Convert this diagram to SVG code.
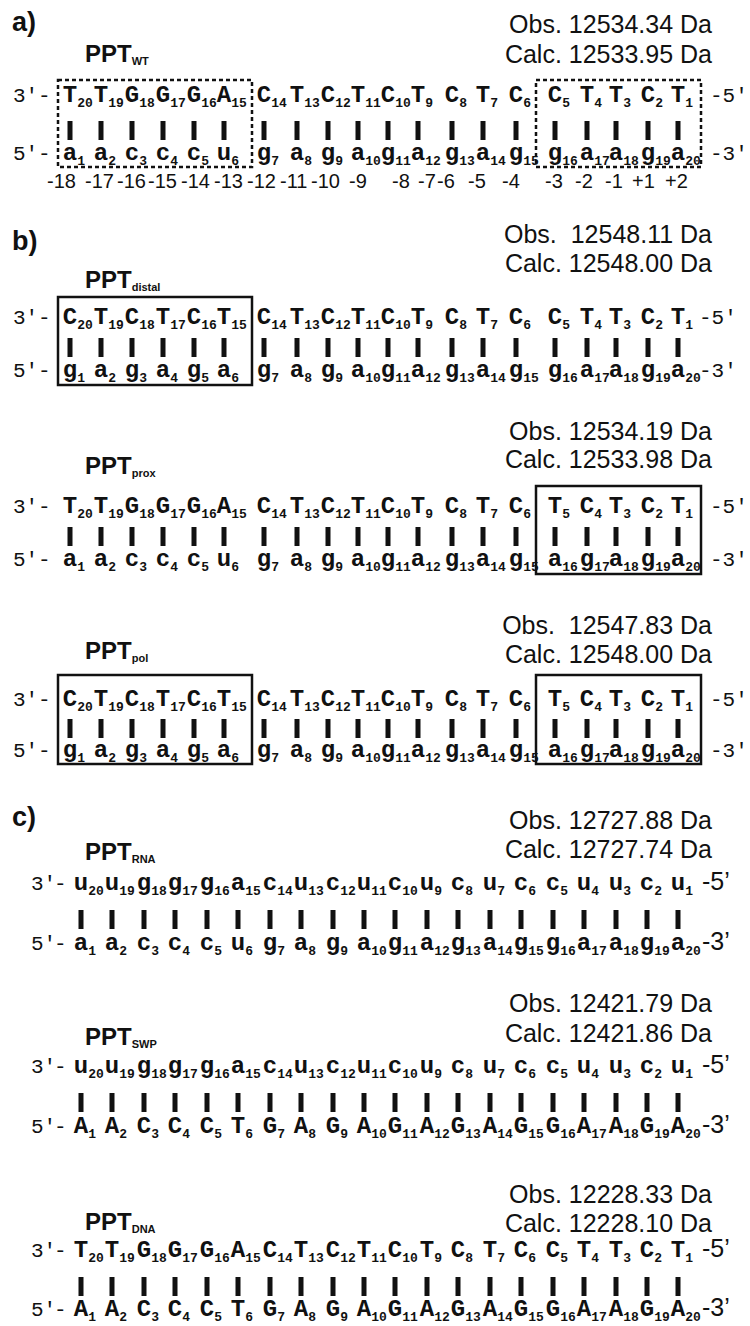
<svg xmlns="http://www.w3.org/2000/svg" xmlns:xlink="http://www.w3.org/1999/xlink" width="750" height="1326" viewBox="0 0 750 1326">
<style>
text{fill:#111}
.h{font-family:"Liberation Sans",Arial,sans-serif;font-weight:bold;font-size:27px}
.m{font-family:"Liberation Sans",Arial,sans-serif;font-size:25px;text-anchor:end}
.p{font-family:"Liberation Sans",Arial,sans-serif;font-weight:bold;font-size:24px}
.ps{font-size:11px}
.b{font-family:"Liberation Mono","Courier New",monospace;font-weight:bold;font-size:24px}
.s{font-size:13px}
.e{font-family:"Liberation Mono","Courier New",monospace;font-size:21px}
.ec{font-family:"Liberation Sans",Arial,sans-serif;font-size:25px}
.n{font-family:"Liberation Sans",Arial,sans-serif;font-size:20px}
.bar{stroke:#111;stroke-width:5;fill:none}
.box{fill:none;stroke:#111;stroke-width:2.5}
.dbox{fill:none;stroke:#111;stroke-width:2.5;stroke-dasharray:4 3}
</style>
<defs>
<path id="barsA" class="bar" d="M70 0v19M101 0v19M132 0v19M163 0v19M194 0v19M224 0v19M264 0v19M297 0v19M328 0v19M358 0v19M388 0v19M418 0v19M452 0v19M483 0v19M516 0v19M555 0v19M587 0v19M616 0v19M648 0v19M678 0v19"/>
<path id="barsC" class="bar" d="M81 0v19M112 0v19M144 0v19M175 0v19M207 0v19M238 0v19M270 0v19M301 0v19M333 0v19M364 0v19M395 0v19M427 0v19M458 0v19M490 0v19M521 0v19M553 0v19M584 0v19M616 0v19M647 0v19M678 0v19"/>
</defs>

<g id="connectors">
<use xlink:href="#barsA" y="121"/>
<use xlink:href="#barsA" y="338"/>
<use xlink:href="#barsA" y="527"/>
<use xlink:href="#barsA" y="719"/>
<use xlink:href="#barsC" y="910"/>
<use xlink:href="#barsC" y="1093"/>
<use xlink:href="#barsC" y="1277"/>
</g>

<g id="panel-a">
<text class="h" x="12" y="31">a)</text>
<text class="m" x="712" y="33">Obs. 12534.34 Da</text>
<text class="m" x="712" y="63">Calc. 12533.95 Da</text>
<text class="p" x="85" y="62">PPT<tspan class="ps" dy="3">WT</tspan></text>
<rect class="dbox" x="58" y="80" width="194" height="87"/>
<rect class="dbox" x="536" y="80" width="165" height="87"/>
<text class="e" y="102"><tspan x="13">3′</tspan><tspan x="38">-</tspan></text>
<text class="e" y="160"><tspan x="13">5′</tspan><tspan x="38">-</tspan></text>
<text class="e" x="710" y="102">-5′</text>
<text class="e" x="710" y="160">-3′</text>
<text class="b" y="107"><tspan x="62.8" dy="-5">T</tspan><tspan class="s" dy="5">20</tspan><tspan x="93.8" dy="-5">T</tspan><tspan class="s" dy="5">19</tspan><tspan x="124.8" dy="-5">G</tspan><tspan class="s" dy="5">18</tspan><tspan x="155.8" dy="-5">G</tspan><tspan class="s" dy="5">17</tspan><tspan x="186.8" dy="-5">G</tspan><tspan class="s" dy="5">16</tspan><tspan x="216.8" dy="-5">A</tspan><tspan class="s" dy="5">15</tspan><tspan x="256.8" dy="-5">C</tspan><tspan class="s" dy="5">14</tspan><tspan x="289.8" dy="-5">T</tspan><tspan class="s" dy="5">13</tspan><tspan x="320.8" dy="-5">C</tspan><tspan class="s" dy="5">12</tspan><tspan x="350.8" dy="-5">T</tspan><tspan class="s" dy="5">11</tspan><tspan x="380.8" dy="-5">C</tspan><tspan class="s" dy="5">10</tspan><tspan x="410.8" dy="-5">T</tspan><tspan class="s" dy="5">9</tspan><tspan x="444.8" dy="-5">C</tspan><tspan class="s" dy="5">8</tspan><tspan x="475.8" dy="-5">T</tspan><tspan class="s" dy="5">7</tspan><tspan x="508.8" dy="-5">C</tspan><tspan class="s" dy="5">6</tspan><tspan x="547.8" dy="-5">C</tspan><tspan class="s" dy="5">5</tspan><tspan x="579.8" dy="-5">T</tspan><tspan class="s" dy="5">4</tspan><tspan x="608.8" dy="-5">T</tspan><tspan class="s" dy="5">3</tspan><tspan x="640.8" dy="-5">C</tspan><tspan class="s" dy="5">2</tspan><tspan x="670.8" dy="-5">T</tspan><tspan class="s" dy="5">1</tspan></text>
<text class="b" y="165"><tspan x="62.8" dy="-5">a</tspan><tspan class="s" dy="5">1</tspan><tspan x="93.8" dy="-5">a</tspan><tspan class="s" dy="5">2</tspan><tspan x="124.8" dy="-5">c</tspan><tspan class="s" dy="5">3</tspan><tspan x="155.8" dy="-5">c</tspan><tspan class="s" dy="5">4</tspan><tspan x="186.8" dy="-5">c</tspan><tspan class="s" dy="5">5</tspan><tspan x="216.8" dy="-5">u</tspan><tspan class="s" dy="5">6</tspan><tspan x="256.8" dy="-5">g</tspan><tspan class="s" dy="5">7</tspan><tspan x="289.8" dy="-5">a</tspan><tspan class="s" dy="5">8</tspan><tspan x="320.8" dy="-5">g</tspan><tspan class="s" dy="5">9</tspan><tspan x="350.8" dy="-5">a</tspan><tspan class="s" dy="5">10</tspan><tspan x="380.8" dy="-5">g</tspan><tspan class="s" dy="5">11</tspan><tspan x="410.8" dy="-5">a</tspan><tspan class="s" dy="5">12</tspan><tspan x="444.8" dy="-5">g</tspan><tspan class="s" dy="5">13</tspan><tspan x="475.8" dy="-5">a</tspan><tspan class="s" dy="5">14</tspan><tspan x="508.8" dy="-5">g</tspan><tspan class="s" dy="5">15</tspan><tspan x="547.8" dy="-5">g</tspan><tspan class="s" dy="5">16</tspan><tspan x="579.8" dy="-5">a</tspan><tspan class="s" dy="5">17</tspan><tspan x="608.8" dy="-5">a</tspan><tspan class="s" dy="5">18</tspan><tspan x="640.8" dy="-5">g</tspan><tspan class="s" dy="5">19</tspan><tspan x="670.8" dy="-5">a</tspan><tspan class="s" dy="5">20</tspan></text>
<text class="n" y="188"><tspan x="47">-18</tspan><tspan x="85">-17</tspan><tspan x="117">-16</tspan><tspan x="148">-15</tspan><tspan x="181">-14</tspan><tspan x="214">-13</tspan><tspan x="247">-12</tspan><tspan x="280">-11</tspan><tspan x="311">-10</tspan><tspan x="349">-9</tspan><tspan x="392">-8</tspan><tspan x="418">-7</tspan><tspan x="437">-6</tspan><tspan x="468">-5</tspan><tspan x="502">-4</tspan><tspan x="545">-3</tspan><tspan x="575">-2</tspan><tspan x="605">-1</tspan><tspan x="632">+1</tspan><tspan x="665">+2</tspan></text>
</g>

<g id="panel-b-distal">
<text class="h" x="12" y="250">b)</text>
<text class="m" x="712" y="243" xml:space="preserve">Obs.  12548.11 Da</text>
<text class="m" x="712" y="272">Calc. 12548.00 Da</text>
<text class="p" x="85" y="288">PPT<tspan class="ps" dy="3">distal</tspan></text>
<rect class="box" x="58" y="297" width="194" height="88"/>
<text class="e" y="324"><tspan x="13">3′</tspan><tspan x="38">-</tspan></text>
<text class="e" y="377"><tspan x="13">5′</tspan><tspan x="38">-</tspan></text>
<text class="e" x="699" y="324">-5′</text>
<text class="e" x="699" y="377">-3′</text>
<text class="b" y="329"><tspan x="62.8" dy="-5">C</tspan><tspan class="s" dy="5">20</tspan><tspan x="93.8" dy="-5">T</tspan><tspan class="s" dy="5">19</tspan><tspan x="124.8" dy="-5">C</tspan><tspan class="s" dy="5">18</tspan><tspan x="155.8" dy="-5">T</tspan><tspan class="s" dy="5">17</tspan><tspan x="186.8" dy="-5">C</tspan><tspan class="s" dy="5">16</tspan><tspan x="216.8" dy="-5">T</tspan><tspan class="s" dy="5">15</tspan><tspan x="256.8" dy="-5">C</tspan><tspan class="s" dy="5">14</tspan><tspan x="289.8" dy="-5">T</tspan><tspan class="s" dy="5">13</tspan><tspan x="320.8" dy="-5">C</tspan><tspan class="s" dy="5">12</tspan><tspan x="350.8" dy="-5">T</tspan><tspan class="s" dy="5">11</tspan><tspan x="380.8" dy="-5">C</tspan><tspan class="s" dy="5">10</tspan><tspan x="410.8" dy="-5">T</tspan><tspan class="s" dy="5">9</tspan><tspan x="444.8" dy="-5">C</tspan><tspan class="s" dy="5">8</tspan><tspan x="475.8" dy="-5">T</tspan><tspan class="s" dy="5">7</tspan><tspan x="508.8" dy="-5">C</tspan><tspan class="s" dy="5">6</tspan><tspan x="547.8" dy="-5">C</tspan><tspan class="s" dy="5">5</tspan><tspan x="579.8" dy="-5">T</tspan><tspan class="s" dy="5">4</tspan><tspan x="608.8" dy="-5">T</tspan><tspan class="s" dy="5">3</tspan><tspan x="640.8" dy="-5">C</tspan><tspan class="s" dy="5">2</tspan><tspan x="670.8" dy="-5">T</tspan><tspan class="s" dy="5">1</tspan></text>
<text class="b" y="382"><tspan x="62.8" dy="-5">g</tspan><tspan class="s" dy="5">1</tspan><tspan x="93.8" dy="-5">a</tspan><tspan class="s" dy="5">2</tspan><tspan x="124.8" dy="-5">g</tspan><tspan class="s" dy="5">3</tspan><tspan x="155.8" dy="-5">a</tspan><tspan class="s" dy="5">4</tspan><tspan x="186.8" dy="-5">g</tspan><tspan class="s" dy="5">5</tspan><tspan x="216.8" dy="-5">a</tspan><tspan class="s" dy="5">6</tspan><tspan x="256.8" dy="-5">g</tspan><tspan class="s" dy="5">7</tspan><tspan x="289.8" dy="-5">a</tspan><tspan class="s" dy="5">8</tspan><tspan x="320.8" dy="-5">g</tspan><tspan class="s" dy="5">9</tspan><tspan x="350.8" dy="-5">a</tspan><tspan class="s" dy="5">10</tspan><tspan x="380.8" dy="-5">g</tspan><tspan class="s" dy="5">11</tspan><tspan x="410.8" dy="-5">a</tspan><tspan class="s" dy="5">12</tspan><tspan x="444.8" dy="-5">g</tspan><tspan class="s" dy="5">13</tspan><tspan x="475.8" dy="-5">a</tspan><tspan class="s" dy="5">14</tspan><tspan x="508.8" dy="-5">g</tspan><tspan class="s" dy="5">15</tspan><tspan x="547.8" dy="-5">g</tspan><tspan class="s" dy="5">16</tspan><tspan x="579.8" dy="-5">a</tspan><tspan class="s" dy="5">17</tspan><tspan x="608.8" dy="-5">a</tspan><tspan class="s" dy="5">18</tspan><tspan x="640.8" dy="-5">g</tspan><tspan class="s" dy="5">19</tspan><tspan x="670.8" dy="-5">a</tspan><tspan class="s" dy="5">20</tspan></text>
</g>

<g id="panel-b-prox">
<text class="m" x="712" y="440">Obs. 12534.19 Da</text>
<text class="m" x="712" y="468">Calc. 12533.98 Da</text>
<text class="p" x="85" y="474">PPT<tspan class="ps" dy="3">prox</tspan></text>
<rect class="box" x="536" y="486" width="165" height="88"/>
<text class="e" y="513"><tspan x="13">3′</tspan><tspan x="38">-</tspan></text>
<text class="e" y="566"><tspan x="13">5′</tspan><tspan x="38">-</tspan></text>
<text class="e" x="710" y="513">-5′</text>
<text class="e" x="710" y="566">-3′</text>
<text class="b" y="518"><tspan x="62.8" dy="-5">T</tspan><tspan class="s" dy="5">20</tspan><tspan x="93.8" dy="-5">T</tspan><tspan class="s" dy="5">19</tspan><tspan x="124.8" dy="-5">G</tspan><tspan class="s" dy="5">18</tspan><tspan x="155.8" dy="-5">G</tspan><tspan class="s" dy="5">17</tspan><tspan x="186.8" dy="-5">G</tspan><tspan class="s" dy="5">16</tspan><tspan x="216.8" dy="-5">A</tspan><tspan class="s" dy="5">15</tspan><tspan x="256.8" dy="-5">C</tspan><tspan class="s" dy="5">14</tspan><tspan x="289.8" dy="-5">T</tspan><tspan class="s" dy="5">13</tspan><tspan x="320.8" dy="-5">C</tspan><tspan class="s" dy="5">12</tspan><tspan x="350.8" dy="-5">T</tspan><tspan class="s" dy="5">11</tspan><tspan x="380.8" dy="-5">C</tspan><tspan class="s" dy="5">10</tspan><tspan x="410.8" dy="-5">T</tspan><tspan class="s" dy="5">9</tspan><tspan x="444.8" dy="-5">C</tspan><tspan class="s" dy="5">8</tspan><tspan x="475.8" dy="-5">T</tspan><tspan class="s" dy="5">7</tspan><tspan x="508.8" dy="-5">C</tspan><tspan class="s" dy="5">6</tspan><tspan x="547.8" dy="-5">T</tspan><tspan class="s" dy="5">5</tspan><tspan x="579.8" dy="-5">C</tspan><tspan class="s" dy="5">4</tspan><tspan x="608.8" dy="-5">T</tspan><tspan class="s" dy="5">3</tspan><tspan x="640.8" dy="-5">C</tspan><tspan class="s" dy="5">2</tspan><tspan x="670.8" dy="-5">T</tspan><tspan class="s" dy="5">1</tspan></text>
<text class="b" y="571"><tspan x="62.8" dy="-5">a</tspan><tspan class="s" dy="5">1</tspan><tspan x="93.8" dy="-5">a</tspan><tspan class="s" dy="5">2</tspan><tspan x="124.8" dy="-5">c</tspan><tspan class="s" dy="5">3</tspan><tspan x="155.8" dy="-5">c</tspan><tspan class="s" dy="5">4</tspan><tspan x="186.8" dy="-5">c</tspan><tspan class="s" dy="5">5</tspan><tspan x="216.8" dy="-5">u</tspan><tspan class="s" dy="5">6</tspan><tspan x="256.8" dy="-5">g</tspan><tspan class="s" dy="5">7</tspan><tspan x="289.8" dy="-5">a</tspan><tspan class="s" dy="5">8</tspan><tspan x="320.8" dy="-5">g</tspan><tspan class="s" dy="5">9</tspan><tspan x="350.8" dy="-5">a</tspan><tspan class="s" dy="5">10</tspan><tspan x="380.8" dy="-5">g</tspan><tspan class="s" dy="5">11</tspan><tspan x="410.8" dy="-5">a</tspan><tspan class="s" dy="5">12</tspan><tspan x="444.8" dy="-5">g</tspan><tspan class="s" dy="5">13</tspan><tspan x="475.8" dy="-5">a</tspan><tspan class="s" dy="5">14</tspan><tspan x="508.8" dy="-5">g</tspan><tspan class="s" dy="5">15</tspan><tspan x="547.8" dy="-5">a</tspan><tspan class="s" dy="5">16</tspan><tspan x="579.8" dy="-5">g</tspan><tspan class="s" dy="5">17</tspan><tspan x="608.8" dy="-5">a</tspan><tspan class="s" dy="5">18</tspan><tspan x="640.8" dy="-5">g</tspan><tspan class="s" dy="5">19</tspan><tspan x="670.8" dy="-5">a</tspan><tspan class="s" dy="5">20</tspan></text>
</g>

<g id="panel-b-pol">
<text class="m" x="712" y="634" xml:space="preserve">Obs.  12547.83 Da</text>
<text class="m" x="712" y="663">Calc. 12548.00 Da</text>
<text class="p" x="85" y="659">PPT<tspan class="ps" dy="3">pol</tspan></text>
<rect class="box" x="58" y="675" width="194" height="89"/>
<rect class="box" x="536" y="675" width="165" height="89"/>
<text class="e" y="706"><tspan x="13">3′</tspan><tspan x="38">-</tspan></text>
<text class="e" y="757"><tspan x="13">5′</tspan><tspan x="38">-</tspan></text>
<text class="e" x="710" y="706">-5′</text>
<text class="e" x="710" y="757">-3′</text>
<text class="b" y="711"><tspan x="62.8" dy="-5">C</tspan><tspan class="s" dy="5">20</tspan><tspan x="93.8" dy="-5">T</tspan><tspan class="s" dy="5">19</tspan><tspan x="124.8" dy="-5">C</tspan><tspan class="s" dy="5">18</tspan><tspan x="155.8" dy="-5">T</tspan><tspan class="s" dy="5">17</tspan><tspan x="186.8" dy="-5">C</tspan><tspan class="s" dy="5">16</tspan><tspan x="216.8" dy="-5">T</tspan><tspan class="s" dy="5">15</tspan><tspan x="256.8" dy="-5">C</tspan><tspan class="s" dy="5">14</tspan><tspan x="289.8" dy="-5">T</tspan><tspan class="s" dy="5">13</tspan><tspan x="320.8" dy="-5">C</tspan><tspan class="s" dy="5">12</tspan><tspan x="350.8" dy="-5">T</tspan><tspan class="s" dy="5">11</tspan><tspan x="380.8" dy="-5">C</tspan><tspan class="s" dy="5">10</tspan><tspan x="410.8" dy="-5">T</tspan><tspan class="s" dy="5">9</tspan><tspan x="444.8" dy="-5">C</tspan><tspan class="s" dy="5">8</tspan><tspan x="475.8" dy="-5">T</tspan><tspan class="s" dy="5">7</tspan><tspan x="508.8" dy="-5">C</tspan><tspan class="s" dy="5">6</tspan><tspan x="547.8" dy="-5">T</tspan><tspan class="s" dy="5">5</tspan><tspan x="579.8" dy="-5">C</tspan><tspan class="s" dy="5">4</tspan><tspan x="608.8" dy="-5">T</tspan><tspan class="s" dy="5">3</tspan><tspan x="640.8" dy="-5">C</tspan><tspan class="s" dy="5">2</tspan><tspan x="670.8" dy="-5">T</tspan><tspan class="s" dy="5">1</tspan></text>
<text class="b" y="762"><tspan x="62.8" dy="-5">g</tspan><tspan class="s" dy="5">1</tspan><tspan x="93.8" dy="-5">a</tspan><tspan class="s" dy="5">2</tspan><tspan x="124.8" dy="-5">g</tspan><tspan class="s" dy="5">3</tspan><tspan x="155.8" dy="-5">a</tspan><tspan class="s" dy="5">4</tspan><tspan x="186.8" dy="-5">g</tspan><tspan class="s" dy="5">5</tspan><tspan x="216.8" dy="-5">a</tspan><tspan class="s" dy="5">6</tspan><tspan x="256.8" dy="-5">g</tspan><tspan class="s" dy="5">7</tspan><tspan x="289.8" dy="-5">a</tspan><tspan class="s" dy="5">8</tspan><tspan x="320.8" dy="-5">g</tspan><tspan class="s" dy="5">9</tspan><tspan x="350.8" dy="-5">a</tspan><tspan class="s" dy="5">10</tspan><tspan x="380.8" dy="-5">g</tspan><tspan class="s" dy="5">11</tspan><tspan x="410.8" dy="-5">a</tspan><tspan class="s" dy="5">12</tspan><tspan x="444.8" dy="-5">g</tspan><tspan class="s" dy="5">13</tspan><tspan x="475.8" dy="-5">a</tspan><tspan class="s" dy="5">14</tspan><tspan x="508.8" dy="-5">g</tspan><tspan class="s" dy="5">15</tspan><tspan x="547.8" dy="-5">a</tspan><tspan class="s" dy="5">16</tspan><tspan x="579.8" dy="-5">g</tspan><tspan class="s" dy="5">17</tspan><tspan x="608.8" dy="-5">a</tspan><tspan class="s" dy="5">18</tspan><tspan x="640.8" dy="-5">g</tspan><tspan class="s" dy="5">19</tspan><tspan x="670.8" dy="-5">a</tspan><tspan class="s" dy="5">20</tspan></text>
</g>

<g id="panel-c-rna">
<text class="h" x="12" y="826">c)</text>
<text class="m" x="712" y="829">Obs. 12727.88 Da</text>
<text class="m" x="712" y="858">Calc. 12727.74 Da</text>
<text class="p" x="85" y="860">PPT<tspan class="ps" dy="3">RNA</tspan></text>
<text class="e" y="890"><tspan x="31">3′</tspan><tspan x="54">-</tspan></text>
<text class="e" y="950"><tspan x="31">5′</tspan><tspan x="54">-</tspan></text>
<text class="ec" x="702" y="890">-5’</text>
<text class="ec" x="702" y="950">-3’</text>
<text class="b" y="895"><tspan x="73.8" dy="-5">u</tspan><tspan class="s" dy="5">20</tspan><tspan x="104.8" dy="-5">u</tspan><tspan class="s" dy="5">19</tspan><tspan x="136.8" dy="-5">g</tspan><tspan class="s" dy="5">18</tspan><tspan x="167.8" dy="-5">g</tspan><tspan class="s" dy="5">17</tspan><tspan x="199.8" dy="-5">g</tspan><tspan class="s" dy="5">16</tspan><tspan x="230.8" dy="-5">a</tspan><tspan class="s" dy="5">15</tspan><tspan x="262.8" dy="-5">c</tspan><tspan class="s" dy="5">14</tspan><tspan x="293.8" dy="-5">u</tspan><tspan class="s" dy="5">13</tspan><tspan x="325.8" dy="-5">c</tspan><tspan class="s" dy="5">12</tspan><tspan x="356.8" dy="-5">u</tspan><tspan class="s" dy="5">11</tspan><tspan x="387.8" dy="-5">c</tspan><tspan class="s" dy="5">10</tspan><tspan x="419.8" dy="-5">u</tspan><tspan class="s" dy="5">9</tspan><tspan x="450.8" dy="-5">c</tspan><tspan class="s" dy="5">8</tspan><tspan x="482.8" dy="-5">u</tspan><tspan class="s" dy="5">7</tspan><tspan x="513.8" dy="-5">c</tspan><tspan class="s" dy="5">6</tspan><tspan x="545.8" dy="-5">c</tspan><tspan class="s" dy="5">5</tspan><tspan x="576.8" dy="-5">u</tspan><tspan class="s" dy="5">4</tspan><tspan x="608.8" dy="-5">u</tspan><tspan class="s" dy="5">3</tspan><tspan x="639.8" dy="-5">c</tspan><tspan class="s" dy="5">2</tspan><tspan x="670.8" dy="-5">u</tspan><tspan class="s" dy="5">1</tspan></text>
<text class="b" y="955"><tspan x="73.8" dy="-5">a</tspan><tspan class="s" dy="5">1</tspan><tspan x="104.8" dy="-5">a</tspan><tspan class="s" dy="5">2</tspan><tspan x="136.8" dy="-5">c</tspan><tspan class="s" dy="5">3</tspan><tspan x="167.8" dy="-5">c</tspan><tspan class="s" dy="5">4</tspan><tspan x="199.8" dy="-5">c</tspan><tspan class="s" dy="5">5</tspan><tspan x="230.8" dy="-5">u</tspan><tspan class="s" dy="5">6</tspan><tspan x="262.8" dy="-5">g</tspan><tspan class="s" dy="5">7</tspan><tspan x="293.8" dy="-5">a</tspan><tspan class="s" dy="5">8</tspan><tspan x="325.8" dy="-5">g</tspan><tspan class="s" dy="5">9</tspan><tspan x="356.8" dy="-5">a</tspan><tspan class="s" dy="5">10</tspan><tspan x="387.8" dy="-5">g</tspan><tspan class="s" dy="5">11</tspan><tspan x="419.8" dy="-5">a</tspan><tspan class="s" dy="5">12</tspan><tspan x="450.8" dy="-5">g</tspan><tspan class="s" dy="5">13</tspan><tspan x="482.8" dy="-5">a</tspan><tspan class="s" dy="5">14</tspan><tspan x="513.8" dy="-5">g</tspan><tspan class="s" dy="5">15</tspan><tspan x="545.8" dy="-5">g</tspan><tspan class="s" dy="5">16</tspan><tspan x="576.8" dy="-5">a</tspan><tspan class="s" dy="5">17</tspan><tspan x="608.8" dy="-5">a</tspan><tspan class="s" dy="5">18</tspan><tspan x="639.8" dy="-5">g</tspan><tspan class="s" dy="5">19</tspan><tspan x="670.8" dy="-5">a</tspan><tspan class="s" dy="5">20</tspan></text>
</g>

<g id="panel-c-swp">
<text class="m" x="712" y="1012">Obs. 12421.79 Da</text>
<text class="m" x="712" y="1042">Calc. 12421.86 Da</text>
<text class="p" x="85" y="1045">PPT<tspan class="ps" dy="3">SWP</tspan></text>
<text class="e" y="1073"><tspan x="31">3′</tspan><tspan x="54">-</tspan></text>
<text class="e" y="1133"><tspan x="31">5′</tspan><tspan x="54">-</tspan></text>
<text class="ec" x="702" y="1073">-5’</text>
<text class="ec" x="702" y="1133">-3’</text>
<text class="b" y="1078"><tspan x="73.8" dy="-5">u</tspan><tspan class="s" dy="5">20</tspan><tspan x="104.8" dy="-5">u</tspan><tspan class="s" dy="5">19</tspan><tspan x="136.8" dy="-5">g</tspan><tspan class="s" dy="5">18</tspan><tspan x="167.8" dy="-5">g</tspan><tspan class="s" dy="5">17</tspan><tspan x="199.8" dy="-5">g</tspan><tspan class="s" dy="5">16</tspan><tspan x="230.8" dy="-5">a</tspan><tspan class="s" dy="5">15</tspan><tspan x="262.8" dy="-5">c</tspan><tspan class="s" dy="5">14</tspan><tspan x="293.8" dy="-5">u</tspan><tspan class="s" dy="5">13</tspan><tspan x="325.8" dy="-5">c</tspan><tspan class="s" dy="5">12</tspan><tspan x="356.8" dy="-5">u</tspan><tspan class="s" dy="5">11</tspan><tspan x="387.8" dy="-5">c</tspan><tspan class="s" dy="5">10</tspan><tspan x="419.8" dy="-5">u</tspan><tspan class="s" dy="5">9</tspan><tspan x="450.8" dy="-5">c</tspan><tspan class="s" dy="5">8</tspan><tspan x="482.8" dy="-5">u</tspan><tspan class="s" dy="5">7</tspan><tspan x="513.8" dy="-5">c</tspan><tspan class="s" dy="5">6</tspan><tspan x="545.8" dy="-5">c</tspan><tspan class="s" dy="5">5</tspan><tspan x="576.8" dy="-5">u</tspan><tspan class="s" dy="5">4</tspan><tspan x="608.8" dy="-5">u</tspan><tspan class="s" dy="5">3</tspan><tspan x="639.8" dy="-5">c</tspan><tspan class="s" dy="5">2</tspan><tspan x="670.8" dy="-5">u</tspan><tspan class="s" dy="5">1</tspan></text>
<text class="b" y="1138"><tspan x="73.8" dy="-5">A</tspan><tspan class="s" dy="5">1</tspan><tspan x="104.8" dy="-5">A</tspan><tspan class="s" dy="5">2</tspan><tspan x="136.8" dy="-5">C</tspan><tspan class="s" dy="5">3</tspan><tspan x="167.8" dy="-5">C</tspan><tspan class="s" dy="5">4</tspan><tspan x="199.8" dy="-5">C</tspan><tspan class="s" dy="5">5</tspan><tspan x="230.8" dy="-5">T</tspan><tspan class="s" dy="5">6</tspan><tspan x="262.8" dy="-5">G</tspan><tspan class="s" dy="5">7</tspan><tspan x="293.8" dy="-5">A</tspan><tspan class="s" dy="5">8</tspan><tspan x="325.8" dy="-5">G</tspan><tspan class="s" dy="5">9</tspan><tspan x="356.8" dy="-5">A</tspan><tspan class="s" dy="5">10</tspan><tspan x="387.8" dy="-5">G</tspan><tspan class="s" dy="5">11</tspan><tspan x="419.8" dy="-5">A</tspan><tspan class="s" dy="5">12</tspan><tspan x="450.8" dy="-5">G</tspan><tspan class="s" dy="5">13</tspan><tspan x="482.8" dy="-5">A</tspan><tspan class="s" dy="5">14</tspan><tspan x="513.8" dy="-5">G</tspan><tspan class="s" dy="5">15</tspan><tspan x="545.8" dy="-5">G</tspan><tspan class="s" dy="5">16</tspan><tspan x="576.8" dy="-5">A</tspan><tspan class="s" dy="5">17</tspan><tspan x="608.8" dy="-5">A</tspan><tspan class="s" dy="5">18</tspan><tspan x="639.8" dy="-5">G</tspan><tspan class="s" dy="5">19</tspan><tspan x="670.8" dy="-5">A</tspan><tspan class="s" dy="5">20</tspan></text>
</g>

<g id="panel-c-dna">
<text class="m" x="712" y="1203">Obs. 12228.33 Da</text>
<text class="m" x="712" y="1232">Calc. 12228.10 Da</text>
<text class="p" x="85" y="1230">PPT<tspan class="ps" dy="3">DNA</tspan></text>
<text class="e" y="1257"><tspan x="31">3′</tspan><tspan x="54">-</tspan></text>
<text class="e" y="1316"><tspan x="31">5′</tspan><tspan x="54">-</tspan></text>
<text class="ec" x="702" y="1257">-5’</text>
<text class="ec" x="702" y="1316">-3’</text>
<text class="b" y="1262"><tspan x="73.8" dy="-5">T</tspan><tspan class="s" dy="5">20</tspan><tspan x="104.8" dy="-5">T</tspan><tspan class="s" dy="5">19</tspan><tspan x="136.8" dy="-5">G</tspan><tspan class="s" dy="5">18</tspan><tspan x="167.8" dy="-5">G</tspan><tspan class="s" dy="5">17</tspan><tspan x="199.8" dy="-5">G</tspan><tspan class="s" dy="5">16</tspan><tspan x="230.8" dy="-5">A</tspan><tspan class="s" dy="5">15</tspan><tspan x="262.8" dy="-5">C</tspan><tspan class="s" dy="5">14</tspan><tspan x="293.8" dy="-5">T</tspan><tspan class="s" dy="5">13</tspan><tspan x="325.8" dy="-5">C</tspan><tspan class="s" dy="5">12</tspan><tspan x="356.8" dy="-5">T</tspan><tspan class="s" dy="5">11</tspan><tspan x="387.8" dy="-5">C</tspan><tspan class="s" dy="5">10</tspan><tspan x="419.8" dy="-5">T</tspan><tspan class="s" dy="5">9</tspan><tspan x="450.8" dy="-5">C</tspan><tspan class="s" dy="5">8</tspan><tspan x="482.8" dy="-5">T</tspan><tspan class="s" dy="5">7</tspan><tspan x="513.8" dy="-5">C</tspan><tspan class="s" dy="5">6</tspan><tspan x="545.8" dy="-5">C</tspan><tspan class="s" dy="5">5</tspan><tspan x="576.8" dy="-5">T</tspan><tspan class="s" dy="5">4</tspan><tspan x="608.8" dy="-5">T</tspan><tspan class="s" dy="5">3</tspan><tspan x="639.8" dy="-5">C</tspan><tspan class="s" dy="5">2</tspan><tspan x="670.8" dy="-5">T</tspan><tspan class="s" dy="5">1</tspan></text>
<text class="b" y="1321"><tspan x="73.8" dy="-5">A</tspan><tspan class="s" dy="5">1</tspan><tspan x="104.8" dy="-5">A</tspan><tspan class="s" dy="5">2</tspan><tspan x="136.8" dy="-5">C</tspan><tspan class="s" dy="5">3</tspan><tspan x="167.8" dy="-5">C</tspan><tspan class="s" dy="5">4</tspan><tspan x="199.8" dy="-5">C</tspan><tspan class="s" dy="5">5</tspan><tspan x="230.8" dy="-5">T</tspan><tspan class="s" dy="5">6</tspan><tspan x="262.8" dy="-5">G</tspan><tspan class="s" dy="5">7</tspan><tspan x="293.8" dy="-5">A</tspan><tspan class="s" dy="5">8</tspan><tspan x="325.8" dy="-5">G</tspan><tspan class="s" dy="5">9</tspan><tspan x="356.8" dy="-5">A</tspan><tspan class="s" dy="5">10</tspan><tspan x="387.8" dy="-5">G</tspan><tspan class="s" dy="5">11</tspan><tspan x="419.8" dy="-5">A</tspan><tspan class="s" dy="5">12</tspan><tspan x="450.8" dy="-5">G</tspan><tspan class="s" dy="5">13</tspan><tspan x="482.8" dy="-5">A</tspan><tspan class="s" dy="5">14</tspan><tspan x="513.8" dy="-5">G</tspan><tspan class="s" dy="5">15</tspan><tspan x="545.8" dy="-5">G</tspan><tspan class="s" dy="5">16</tspan><tspan x="576.8" dy="-5">A</tspan><tspan class="s" dy="5">17</tspan><tspan x="608.8" dy="-5">A</tspan><tspan class="s" dy="5">18</tspan><tspan x="639.8" dy="-5">G</tspan><tspan class="s" dy="5">19</tspan><tspan x="670.8" dy="-5">A</tspan><tspan class="s" dy="5">20</tspan></text>
</g>
</svg>
